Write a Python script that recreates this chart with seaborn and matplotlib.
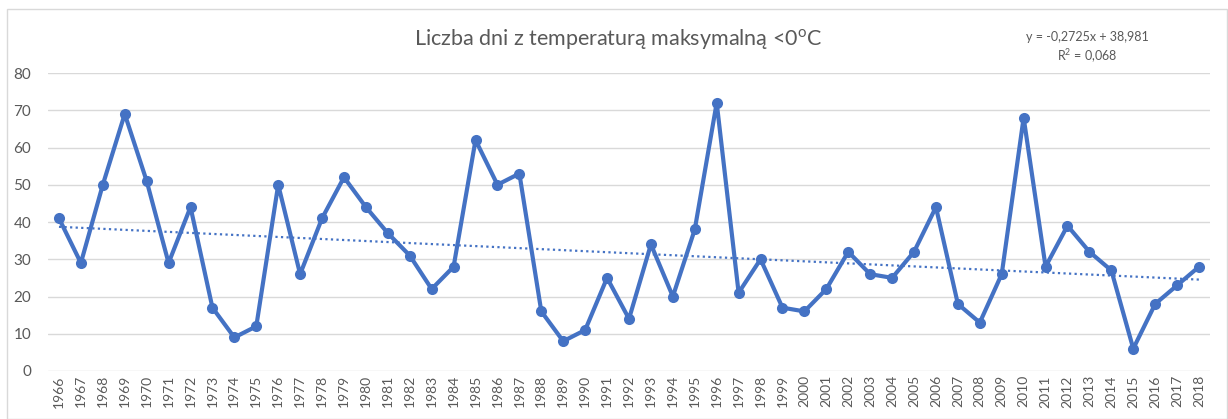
import numpy as np
import pandas as pd
import seaborn as sns
import matplotlib.pyplot as plt

# dane
years = list(range(1966, 2019))
days = [41, 29, 50, 69, 51, 29, 44, 17, 9, 12,
        50, 26, 41, 52, 44, 37, 31, 22, 28, 62,
        50, 53, 16, 8, 11, 25, 14, 34, 20, 38,
        72, 21, 30, 17, 16, 22, 32, 26, 25, 32,
        44, 18, 13, 26, 68, 28, 39, 32, 27, 6,
        18, 23, 28]
yticks = [0, 10, 20, 30, 40, 50, 60, 70, 80]
title = "Liczba dni z temperaturą maksymalną <0$^{\\mathregular{o}}$C"
eq_text = "y = -0,2725x + 38,981\nR$^{\\mathregular{2}}$ = 0,068"

df = pd.DataFrame({"year": years, "days": days})

# linia trendu liczona na indeksie 1..n (jak w Excelu)
idx = np.arange(1, len(years) + 1)
slope, intercept = np.polyfit(idx, days, 1)
df["trend"] = slope * idx + intercept

sns.set_style("white")
plt.rcParams["font.family"] = ["Lato", "DejaVu Sans"]
plt.rcParams["mathtext.fontset"] = "custom"
plt.rcParams["mathtext.rm"] = "Lato"

blue = "#4472C4"
grey = "#595959"

fig = plt.figure(figsize=(12.28, 4.19), dpi=100)
ax = fig.add_axes([48 / 1228, 1 - 371 / 419, (1210 - 48) / 1228, (371 - 73) / 419])

sns.lineplot(data=df, x="year", y="days", ax=ax, color=blue, linewidth=3,
             marker="o", markersize=8, markeredgewidth=0, zorder=3)
sns.lineplot(data=df, x="year", y="trend", ax=ax, color=blue, linewidth=1.6,
             linestyle=(0, (1, 1.5)), zorder=2)

ax.set_xlim(years[0] - 0.5, years[-1] + 0.5)
ax.set_ylim(0, 80)
ax.set_yticks(yticks)
ax.set_xticks(years)
ax.set_xticklabels([str(y) for y in years], rotation=90, fontsize=10, color=grey)
ax.tick_params(axis="y", labelsize=11, colors=grey, length=0, pad=12)
ax.tick_params(axis="x", length=0, pad=3)
ax.grid(axis="y", color="#D9D9D9", linewidth=1)
ax.set_axisbelow(True)
ax.set_xlabel("")
ax.set_ylabel("")
for s in ax.spines.values():
    s.set_visible(False)

fig.text(618 / 1228, 1 - 40 / 419, title, ha="center", va="center",
         fontsize=15.5, color=grey)
fig.text(1087 / 1228, 1 - 48 / 419, eq_text, ha="center", va="center",
         fontsize=9, color=grey, linespacing=1.35)

# ramka wykresu
fig.patches.append(plt.Rectangle((7 / 1228, 0), 1 - 8 / 1228, 1 - 9 / 419,
                                 transform=fig.transFigure, fill=False,
                                 edgecolor="#D9D9D9", linewidth=1))

fig.savefig("out.png", dpi=100)
